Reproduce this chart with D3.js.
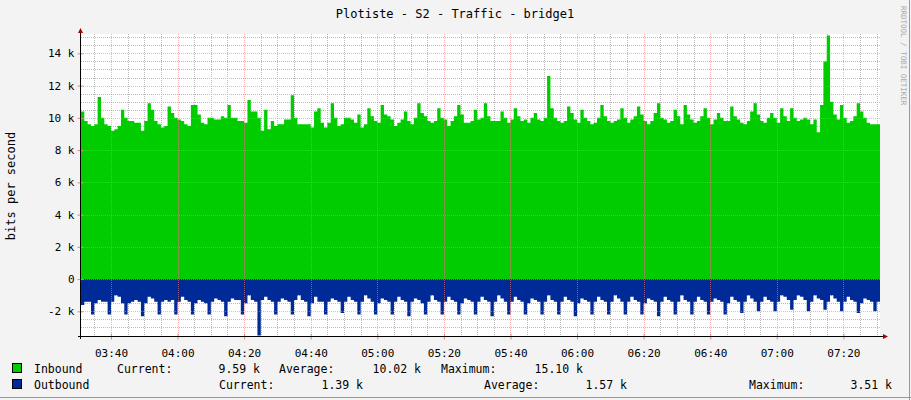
<!DOCTYPE html>
<html><head><meta charset="utf-8">
<script src="https://cdn.jsdelivr.net/npm/d3@7"></script>
<style>body{margin:0;background:#f3f3f3}svg{display:block}text{font-family:"DejaVu Sans Mono",monospace}</style>
</head><body><svg id="c" width="911" height="400"></svg>
<script>
const title = "Plotiste - S2 - Traffic - bridge1";
const startMinute = 3*60+31; // 03:31, one sample per minute
const timeTicks = ["03:40","04:00","04:20","04:40","05:00","05:20","05:40","06:00","06:20","06:40","07:00","07:20"];
const yTicks = [-2,0,2,4,6,8,10,12,14];
// inbound, k bits/s
const inbound = [
10.4,9.8,9.6,9.5,9.6, 11.3,10.0,9.6,9.5,9.2, 9.3,9.5,10.5,10.0,9.8, 9.8,9.7,9.7,9.2,9.8,
10.9,10.5,9.8,9.6,9.4, 9.5,10.7,10.3,10.0,9.9, 9.8,9.6,9.5,10.8,10.8, 10.2,9.7,9.6,10.0,10.0,
9.9,9.9,10.1,10.0,10.8, 10.0,10.0,9.8,9.8,9.7, 11.1,10.4,10.4,10.0,9.2, 10.5,9.3,9.8,9.5,9.6,
9.6,9.9,9.9,11.4,10.0, 9.6,9.6,9.6,9.6,9.4, 10.4,10.6,9.7,9.4,9.7, 10.9,10.0,9.5,9.6,10.0,
10.0,9.9,9.7,10.2,9.4, 9.6,10.6,10.1,9.8,9.7, 10.8,10.2,10.1,9.9,9.5, 9.7,9.9,10.4,9.8,9.6,
10.0,10.9,10.3,10.1,9.8, 9.7,9.8,10.6,10.0,9.9, 9.5,9.8,10.1,10.8,10.2, 9.7,9.7,9.8,10.5,9.9,
10.0,10.9,10.1,9.8,9.8, 9.8,10.4,10.0,9.7,9.9, 10.6,10.1,9.8,9.9,9.7, 10.0,10.3,9.9,9.8,10.0,
12.6,10.6,10.0,9.8,9.7, 9.8,10.7,10.3,9.9,9.7, 10.5,10.0,9.8,9.6,9.7, 10.0,10.8,10.1,9.8,9.7,
9.8,9.9,10.6,10.0,9.7, 9.9,10.1,10.7,10.2,9.8, 9.6,9.8,10.3,10.9,10.0, 9.9,9.7,9.8,10.5,10.1,
9.6,10.8,10.2,9.9,9.7, 9.8,10.1,10.6,10.0,9.6, 9.9,10.3,10.0,9.8,9.8, 10.7,10.1,9.9,9.7,9.6,
9.8,10.4,10.9,10.2,9.8, 9.7,10.0,10.3,10.0,9.7, 10.6,10.1,9.8,10.6,10.0, 9.8,9.9,10.0,9.9,9.6,
9.9,9.1,10.8,13.5,15.1, 11.0,10.2,9.9,10.8,10.0, 9.7,9.8,10.1,10.9,10.4, 10.0,9.7,9.6,9.6,9.6
];
// outbound, k bits/s (drawn below zero)
const outbound = [
1.6,1.4,1.4,2.2,1.5, 1.3,1.4,1.4,2.2,1.4, 1.0,1.1,1.5,2.2,1.5, 1.4,1.3,1.4,2.3,1.5,
1.1,1.2,1.4,2.2,1.4, 1.3,1.4,1.3,2.2,1.4, 1.1,1.3,1.4,2.2,1.5, 1.3,1.4,1.5,2.2,1.4,
1.2,1.3,1.4,2.3,1.4, 1.2,1.3,1.3,2.2,1.5, 1.0,1.3,1.4,3.5,1.3, 1.1,1.3,1.4,2.2,1.4,
1.2,1.3,1.4,2.2,1.3, 1.0,1.3,1.4,2.3,1.5, 1.1,1.4,1.4,2.2,1.4, 1.2,1.3,1.4,2.1,1.4,
1.1,1.3,1.4,2.2,1.4, 1.0,1.2,1.4,2.2,1.5, 1.2,1.3,1.4,2.2,1.4, 1.1,1.3,1.4,2.3,1.4,
1.2,1.3,1.5,2.2,1.4, 1.0,1.3,1.4,2.2,1.4, 1.1,1.3,1.4,2.2,1.5, 1.2,1.3,1.4,2.2,1.4,
1.1,1.3,1.4,2.3,1.4, 1.0,1.2,1.4,2.2,1.4, 1.1,1.3,1.4,2.2,1.5, 1.2,1.3,1.4,2.2,1.4,
1.0,1.3,1.4,2.2,1.4, 1.1,1.3,1.4,2.3,1.5, 1.2,1.3,1.4,2.2,1.4, 1.1,1.3,1.4,2.2,1.4,
1.0,1.2,1.4,2.2,1.4, 1.1,1.3,1.4,2.2,1.5, 1.2,1.3,1.4,2.3,1.4, 1.1,1.3,1.4,2.2,1.4,
1.0,1.3,1.4,2.2,1.4, 1.1,1.3,1.4,2.2,1.4, 1.2,1.3,1.4,2.2,1.5, 1.1,1.3,1.4,2.1,1.4,
1.0,1.2,1.4,2.0,1.4, 1.1,1.3,1.4,2.0,1.4, 1.0,1.1,1.3,1.9,1.3, 1.0,1.1,1.3,2.0,1.4,
1.0,1.2,1.3,1.9,1.4, 1.0,1.2,1.4,2.0,1.4, 1.1,1.3,1.4,2.1,1.5, 1.2,1.3,1.4,2.0,1.4
];
const legendRows = [
  {name:"Inbound", color:"#00cc00", cells:[["Current:",117],["9.59 k",260],["Average:",279],["10.02 k",421],["Maximum:",441],["15.10 k",583]]},
  {name:"Outbound", color:"#002a97", cells:[["Current:",219],["1.39 k",363],["Average:",484],["1.57 k",627],["Maximum:",749],["3.51 k",892]]}
];

const svg = d3.select("#c");
const L=81,R=880,T=34,B=336;
const n = inbound.length;
const x = d3.scaleLinear().domain([startMinute, startMinute+n]).range([L,R]);
const y = d3.scaleLinear().domain([-3.53,15.2]).range([B,T]);
svg.append("rect").attr("x",0).attr("y",0).attr("width",911).attr("height",400).attr("fill","#f3f3f3");
svg.append("line").attr("x1",0).attr("x2",911).attr("y1",397.5).attr("y2",397.5).attr("stroke","#999");
svg.append("line").attr("x1",909.5).attr("x2",909.5).attr("y1",0).attr("y2",400).attr("stroke","#999");
svg.append("rect").attr("x",L).attr("y",T).attr("width",R-L).attr("height",B-T).attr("fill","#fff");
const g = svg.append("g");
// minor grids
const minorX=[]; for(let m=Math.ceil(startMinute/5)*5;m<=startMinute+n;m+=5) minorX.push(m);
const minorY=d3.range(-3.5,15.01,0.5);
g.selectAll(".mx").data(minorX.filter(m=>m%20)).join("line").attr("x1",d=>Math.round(x(d))+.5).attr("x2",d=>Math.round(x(d))+.5).attr("y1",T).attr("y2",B).attr("stroke","#bbb").attr("stroke-dasharray","1,1");
g.selectAll(".my").data(minorY.filter(v=>Math.abs(v%2)>0.01)).join("line").attr("x1",L).attr("x2",R).attr("y1",d=>Math.round(y(d))+.5).attr("y2",d=>Math.round(y(d))+.5).attr("stroke","#bbb").attr("stroke-dasharray","1,1");
// data
const area = d3.area().curve(d3.curveStepAfter).x((d,i)=>x(startMinute+i)).y0(y(0));
const inPts = inbound.concat([inbound[n-1]]), outPts = outbound.concat([outbound[n-1]]);
svg.append("path").datum(inPts).attr("fill","#00cc00").attr("d",area.y1(d=>y(d)));
svg.append("path").datum(outPts).attr("fill","#002a97").attr("d",area.y1(d=>y(-d)));
// major grids on top
const parse = s=>{const [h,m]=s.split(":").map(Number);return h*60+m;};
svg.selectAll(".Mx").data(timeTicks).join("line").attr("x1",d=>Math.round(x(parse(d)))+.5).attr("x2",d=>Math.round(x(parse(d)))+.5).attr("y1",T).attr("y2",B).attr("stroke","#f08080").attr("stroke-opacity",.6).attr("stroke-dasharray","1,1");
svg.selectAll(".My").data(yTicks).join("line").attr("x1",L).attr("x2",R).attr("y1",d=>Math.round(y(d))+.5).attr("y2",d=>Math.round(y(d))+.5).attr("stroke","#f08080").attr("stroke-opacity",.6).attr("stroke-dasharray","1,1");
// axes
const xa = svg.append("g").attr("transform",`translate(0,${B+.5})`).call(d3.axisBottom(x).tickValues(timeTicks.map(parse)).tickFormat((d,i)=>timeTicks[i]).tickSize(3));
xa.select(".domain").remove();
xa.selectAll(".tick line").attr("stroke","#f08080").attr("y1",-3);
xa.selectAll("text").attr("font-size",11).attr("fill","#000").attr("dy","1.3em");
const ya = svg.append("g").attr("transform",`translate(${L-.5},0)`).call(d3.axisLeft(y).tickValues(yTicks).tickFormat(d=>d===0?"0":d+" k").tickSize(3));
ya.select(".domain").remove();
ya.selectAll(".tick line").attr("stroke","#f08080").attr("x1",3).attr("x2",-3);
ya.selectAll("text").attr("font-size",11).attr("fill","#000").attr("x",-6);
svg.append("line").attr("x1",L-3).attr("x2",R+4).attr("y1",B+.5).attr("y2",B+.5).attr("stroke","#000");
svg.append("line").attr("x1",L-.5).attr("x2",L-.5).attr("y1",T-3).attr("y2",B+3).attr("stroke","#000");
svg.append("path").attr("d",`M${R+8},${B+.5}L${R+3},${B-2}L${R+3},${B+3}Z`).attr("fill","#a00");
svg.append("path").attr("d",`M${L-.5},${T-6}L${L-3},${T-1}L${L+2},${T-1}Z`).attr("fill","#a00");
// texts
svg.append("text").attr("x",455).attr("y",18).attr("text-anchor","middle").attr("font-size",12).text(title);
svg.append("text").attr("transform","translate(15,186) rotate(-90)").attr("text-anchor","middle").attr("font-size",12).text("bits per second");
svg.append("text").attr("transform","translate(901,6) rotate(90)").attr("font-size",7.5).attr("fill","#aaa").text("RRDTOOL / TOBI OETIKER");
legendRows.forEach((r,i)=>{
  const yy=372+i*16;
  svg.append("rect").attr("x",12.5).attr("y",yy-8.5).attr("width",9).attr("height",9).attr("fill",r.color).attr("stroke","#000");
  svg.append("text").attr("x",34).attr("y",yy+1).attr("font-size",11.5).text(r.name);
  r.cells.forEach(([t,px],j)=>svg.append("text").attr("x",px).attr("y",yy+1).attr("font-size",11.5).attr("text-anchor",j%2?"end":"start").text(t));
});
</script></body></html>
